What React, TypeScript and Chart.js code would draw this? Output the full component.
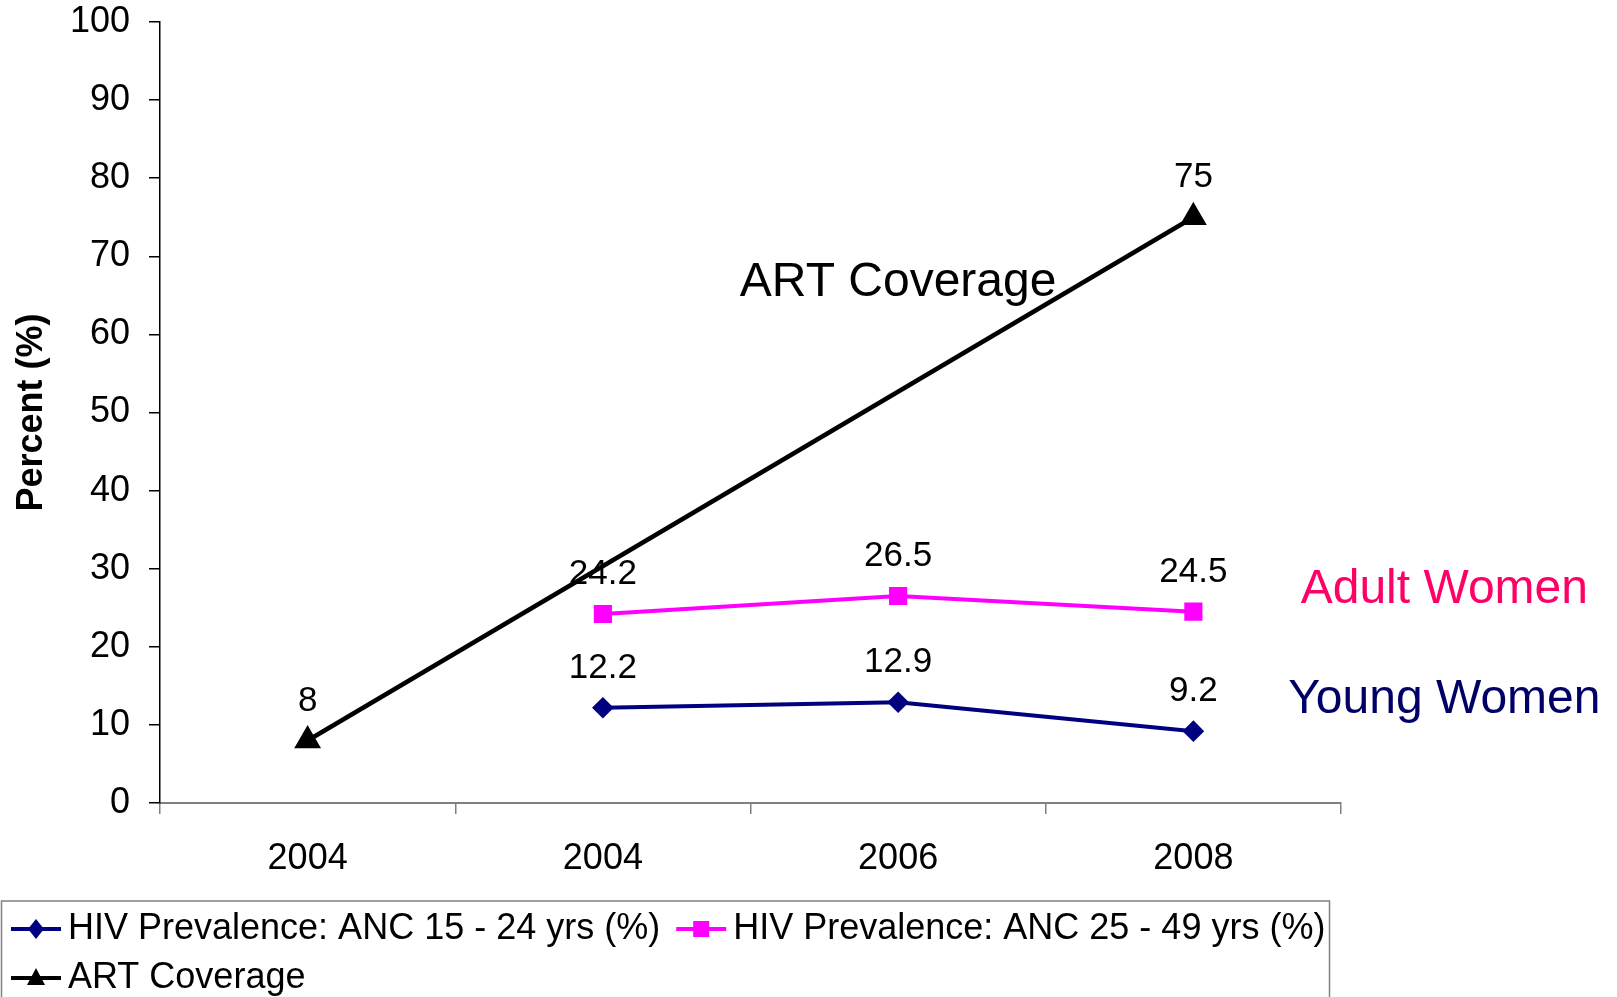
import React, { useEffect, useRef } from 'react';
import { Chart, registerables } from 'chart.js';

Chart.register(...registerables);

const FONT = "'Liberation Sans', Arial, sans-serif";

const categories = ['2004', '2004', '2006', '2008'];
const youngWomen = [null, 12.2, 12.9, 9.2];
const adultWomen = [null, 24.2, 26.5, 24.5];
const artCoverage = [8, null, null, 75];
const seriesLabels = [
  'HIV Prevalence: ANC 15 - 24 yrs (%)',
  'HIV Prevalence: ANC 25 - 49 yrs (%)',
  'ART Coverage',
];
const yAxisTitle = 'Percent (%)';
const annotationTexts = ['ART Coverage', 'Adult Women', 'Young Women'];
const annotationX = [2, 3.85, 3.85];
const annotationY = [64.9, 25.65, 11.5];
const annotationColors = ['#000000', '#FF0066', '#000066'];

const valueLabelsPlugin = {
  id: 'valueLabels',
  afterDatasetsDraw(chart: any) {
    const ctx = chart.ctx;
    ctx.save();
    ctx.font = `35px ${FONT}`;
    ctx.fillStyle = '#000';
    ctx.textAlign = 'center';
    ctx.textBaseline = 'alphabetic';
    chart.data.datasets.forEach((ds: any, i: number) => {
      const meta = chart.getDatasetMeta(i);
      meta.data.forEach((pt: any, j: number) => {
        const v = ds.data[j];
        if (v === null || v === undefined) return;
        ctx.fillText(String(v), pt.x, pt.y - 30);
      });
    });
    ctx.restore();
  },
};

const annotationPlugin = {
  id: 'textAnnotations',
  afterDatasetsDraw(chart: any) {
    const ctx = chart.ctx;
    const xs = chart.scales.x;
    const ys = chart.scales.y;
    ctx.save();
    ctx.font = `48px ${FONT}`;
    ctx.textAlign = 'center';
    ctx.textBaseline = 'alphabetic';
    annotationTexts.forEach((t, i) => {
      ctx.fillStyle = annotationColors[i];
      ctx.fillText(t, xs.getPixelForValue(annotationX[i]), ys.getPixelForValue(annotationY[i]));
    });
    ctx.restore();
  },
};

function drawMarker(ctx: CanvasRenderingContext2D, style: string, x: number, y: number, color: string) {
  ctx.fillStyle = color;
  ctx.beginPath();
  if (style === 'rectRot') {
    ctx.moveTo(x, y - 10);
    ctx.lineTo(x + 8, y);
    ctx.lineTo(x, y + 10);
    ctx.lineTo(x - 8, y);
  } else if (style === 'rect') {
    ctx.rect(x - 8, y - 8, 16, 16);
  } else {
    ctx.moveTo(x, y - 10);
    ctx.lineTo(x + 9, y + 7);
    ctx.lineTo(x - 9, y + 7);
  }
  ctx.closePath();
  ctx.fill();
}

const legendPlugin = {
  id: 'boxLegend',
  afterDraw(chart: any) {
    const ctx = chart.ctx;
    ctx.save();
    ctx.strokeStyle = '#808080';
    ctx.lineWidth = 1.5;
    ctx.strokeRect(1.5, 901, 1328, 140);
    ctx.font = `36px ${FONT}`;
    ctx.textBaseline = 'middle';
    ctx.textAlign = 'left';
    let x = 11;
    let y = 929;
    chart.data.datasets.forEach((ds: any) => {
      const tw = ctx.measureText(ds.label).width;
      const w = 57 + tw;
      if (x + w > 1332) {
        x = 11;
        y += 49;
      }
      ctx.strokeStyle = ds.borderColor;
      ctx.lineWidth = 4;
      ctx.beginPath();
      ctx.moveTo(x, y);
      ctx.lineTo(x + 50, y);
      ctx.stroke();
      drawMarker(ctx, ds.pointStyle, x + 25, y, ds.pointBackgroundColor);
      ctx.fillStyle = '#000';
      ctx.fillText(ds.label, x + 57, y);
      x += w + 16;
    });
    ctx.restore();
  },
};

export default function App() {
  const canvasRef = useRef<HTMLCanvasElement | null>(null);

  useEffect(() => {
    if (!canvasRef.current) return;
    const chart = new Chart(canvasRef.current, {
      type: 'line',
      data: {
        labels: categories,
        datasets: [
          {
            label: seriesLabels[0],
            data: youngWomen,
            borderColor: '#000080',
            backgroundColor: '#000080',
            pointBackgroundColor: '#000080',
            pointBorderColor: '#000080',
            pointStyle: 'rectRot',
            pointRadius: 8,
            borderWidth: 4,
            tension: 0,
          },
          {
            label: seriesLabels[1],
            data: adultWomen,
            borderColor: '#FF00FF',
            backgroundColor: '#FF00FF',
            pointBackgroundColor: '#FF00FF',
            pointBorderColor: '#FF00FF',
            pointStyle: 'rect',
            pointRadius: 10,
            borderWidth: 4,
            tension: 0,
          },
          {
            label: seriesLabels[2],
            data: artCoverage,
            borderColor: '#000000',
            backgroundColor: '#000000',
            pointBackgroundColor: '#000000',
            pointBorderColor: '#000000',
            pointStyle: 'triangle',
            pointRadius: 11,
            borderWidth: 4.5,
            tension: 0,
            spanGaps: true,
          },
        ] as any,
      },
      options: {
        animation: false,
        responsive: false,
        devicePixelRatio: 1,
        layout: { padding: { left: 0, top: 22, right: 276, bottom: 0 } },
        plugins: {
          legend: { display: false },
          tooltip: { enabled: false },
        },
        scales: {
          x: {
            type: 'category',
            offset: true,
            grid: {
              offset: true,
              drawOnChartArea: false,
              drawTicks: true,
              tickLength: 11,
              color: '#808080',
              lineWidth: 1.5,
            },
            border: { color: '#808080', width: 2 },
            ticks: {
              font: { family: FONT, size: 36 },
              color: '#000',
              padding: 23,
              maxRotation: 0,
            },
            afterFit(scale: any) {
              scale.height = 194;
              scale.paddingLeft = 0;
              scale.paddingRight = 0;
            },
          },
          y: {
            min: 0,
            max: 100,
            ticks: {
              stepSize: 10,
              font: { family: FONT, size: 36 },
              color: '#000',
              padding: 19,
            },
            grid: {
              drawOnChartArea: false,
              drawTicks: true,
              tickLength: 11,
              color: '#000',
              lineWidth: 1.5,
            },
            border: { color: '#000', width: 1.5 },
            title: {
              display: true,
              text: yAxisTitle,
              font: { family: FONT, size: 36, weight: 'bold' },
              color: '#000',
              padding: { top: 10, bottom: 0 },
            },
            afterFit(scale: any) {
              scale.width = 160;
              scale.paddingTop = 0;
              scale.paddingBottom = 0;
            },
          },
        },
      } as any,
      plugins: [valueLabelsPlugin, annotationPlugin, legendPlugin],
    });
    return () => chart.destroy();
  }, []);

  return (
    <div style={{ position: 'fixed', left: 0, top: 0, width: 1617, height: 997, background: '#fff' }}>
      <canvas ref={canvasRef} width={1617} height={997} style={{ display: 'block' }} />
    </div>
  );
}
